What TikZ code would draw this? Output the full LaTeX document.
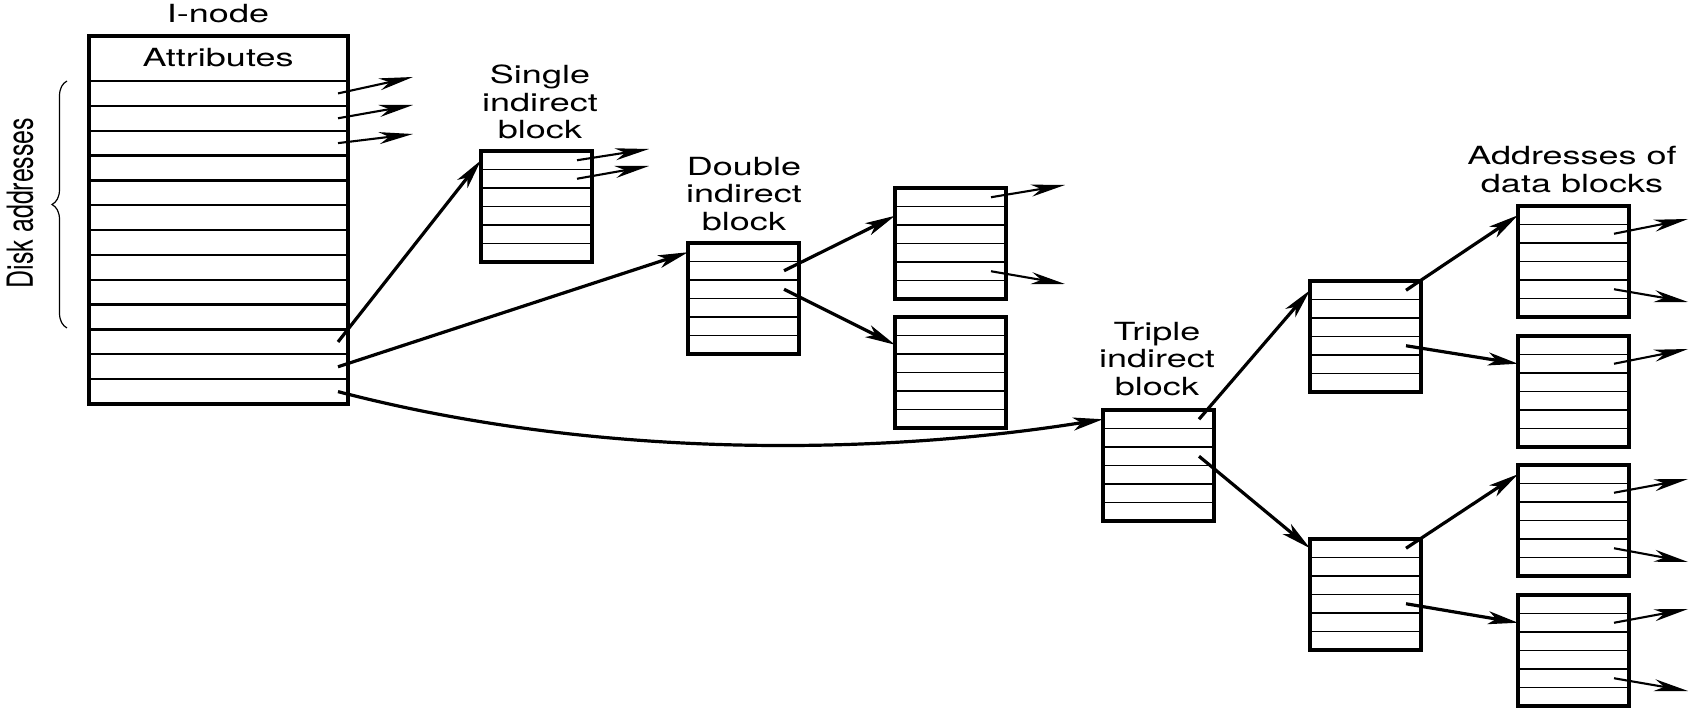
\documentclass[tikz,border=0pt]{standalone}
\usepackage{fontspec}
\setmainfont{TeX Gyre Heros}
\usepackage{graphicx}
\usetikzlibrary{arrows.meta,decorations.pathreplacing}

\tikzset{
  blockbox/.style={draw, line width=1.6pt, inner sep=0pt, outer sep=0pt,
    minimum width=55.5pt, minimum height=55.5pt, anchor=north west},
  rowline/.style={line width=0.75pt},
  inoderow/.style={line width=1.15pt},
  bigarrow/.style={line width=1.6pt, -{Stealth[length=15pt,width=6.5pt,inset=4pt]}},
  smallarrow/.style={line width=1.05pt, -{Stealth[length=17pt,width=6pt,inset=5pt]}},
  lbl/.style={inner sep=0pt, outer sep=0pt, font=\fontsize{12.5}{13.75}\selectfont},
}

\newcommand{\stretched}[1]{\scalebox{1.44}[1]{\begin{tabular}{@{}c@{}}#1\end{tabular}}}

\newcommand{\blk}[3]{%
  \node[blockbox] (#1) at (#2,#3) {};
  \foreach \i in {1,...,5} {\draw[rowline] (#2,{#3+\i*18.5}) -- ++(111,0);}
  \foreach \i in {1,...,6} {
    \coordinate (#1-l\i) at (#2,{#3+(\i-0.5)*18.5});
    \coordinate (#1-r\i) at ({#2+96},{#3+(\i-0.5)*18.5});
  }
}

\begin{document}
\begin{tikzpicture}[x=0.5pt,y=-0.5pt]
\useasboundingbox (0,0) rectangle (1695,710);

% I-node
\node[draw, line width=1.6pt, inner sep=0pt, outer sep=0pt,
  minimum width=129.5pt, minimum height=184pt, anchor=north west] (inode) at (89,36) {};
\foreach \i in {0,...,12} {\draw[inoderow] (89,{81+\i*24.85}) -- ++(259,0);}
\foreach \i in {1,...,13} {\coordinate (inode-r\i) at (338,{81+(\i-0.5)*24.85});}

\node[lbl] (inodelbl) at (218,14) {\scalebox{1.44}[1]{I-node}};
\node[lbl] (attr) at (218,57.5) {\scalebox{1.44}[1]{Attributes}};
\node[lbl] (disk) at (20,203) {\scalebox{1.44}[1]{\rotatebox{90}{Disk addresses}}};
\coordinate (brtop) at (67,81);
\coordinate (brbot) at (67,328);
\draw[line width=0.6pt, decorate, decoration={brace, amplitude=7.5pt}] (brbot) -- (brtop);

% blocks
\blk{single}{481}{151}
\blk{double}{688}{243}
\blk{dA}{895}{188}
\blk{dB}{895}{317}
\blk{triple}{1103}{410}
\blk{tC}{1310}{281}
\blk{tD}{1310}{539}
\blk{E}{1518}{206}
\blk{F}{1518}{336}
\blk{G}{1518}{465}
\blk{H}{1518}{595}

% labels
\node[lbl] (singlelbl) at (540,106) {\stretched{Single\\indirect\\block}};
\node[lbl] (doublelbl) at (744,197.5) {\stretched{Double\\indirect\\block}};
\node[lbl] (triplelbl) at (1157,362.5) {\stretched{Triple\\indirect\\block}};
\node[lbl] (addrlbl) at (1572,173) {\stretched{Addresses of\\data blocks}};

% free ends
\coordinate (d1) at (413,77);
\coordinate (d2) at (413,105);
\coordinate (d3) at (413,134);
\coordinate (s1) at (649,149);
\coordinate (s2) at (649,166);
\coordinate (a1) at (1065,185);
\coordinate (a5) at (1065,284);
\coordinate (e2) at (1688,219);
\coordinate (e5) at (1688,302);
\coordinate (f2) at (1688,349);
\coordinate (g2) at (1688,479);
\coordinate (g5) at (1688,562);
\coordinate (h2) at (1688,609);
\coordinate (h5) at (1688,691);

% big arrows
\draw[bigarrow] (inode-r11) -- (single-l1);
\draw[bigarrow] (inode-r12) -- (double-l1);
\draw[bigarrow] (inode-r13) .. controls (600,460) and (880,455) .. (triple-l1);
\draw[bigarrow] (double-r2) -- (dA-l2);
\draw[bigarrow] (double-r3) -- (dB-l2);
\draw[bigarrow] (triple-r1) -- (tC-l1);
\draw[bigarrow] (triple-r3) -- (tD-l1);
\draw[bigarrow] (tC-r1) -- (E-l1);
\draw[bigarrow] (tC-r4) -- (F-l2);
\draw[bigarrow] (tD-r1) -- (G-l1);
\draw[bigarrow] (tD-r4) -- (H-l2);

% small arrows
\draw[smallarrow] (inode-r1) -- (d1);
\draw[smallarrow] (inode-r2) -- (d2);
\draw[smallarrow] (inode-r3) -- (d3);
\draw[smallarrow] (single-r1) -- (s1);
\draw[smallarrow] (single-r2) -- (s2);
\draw[smallarrow] (dA-r1) -- (a1);
\draw[smallarrow] (dA-r5) -- (a5);
\draw[smallarrow] (E-r2) -- (e2);
\draw[smallarrow] (E-r5) -- (e5);
\draw[smallarrow] (F-r2) -- (f2);
\draw[smallarrow] (G-r2) -- (g2);
\draw[smallarrow] (G-r5) -- (g5);
\draw[smallarrow] (H-r2) -- (h2);
\draw[smallarrow] (H-r5) -- (h5);
\end{tikzpicture}
\end{document}
